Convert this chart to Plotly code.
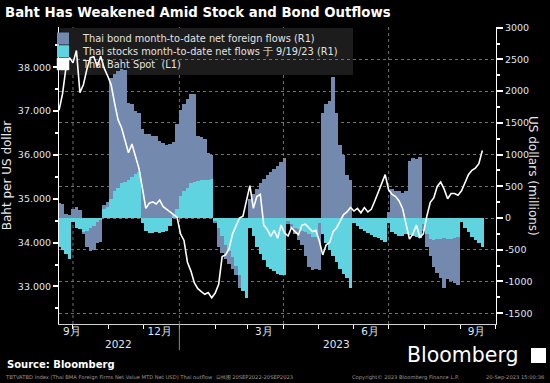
import pandas as pd
import plotly.graph_objects as go

# ---------------- data ----------------
dates = pd.date_range("2022-09-19", periods=123, freq="3D")

baht_spot = [
    37.02, 37.40, 38.00, 38.22, 38.10, 38.38, 37.42, 37.60, 37.95, 38.22,
    38.24, 38.02, 38.25, 37.98, 37.80, 37.60, 37.18, 36.80, 36.62, 36.35,
    36.05, 36.25, 35.95, 35.70, 35.25, 34.78, 34.90, 34.93, 34.88, 34.97,
    34.82, 34.76, 34.72, 34.64, 34.58, 34.20, 34.05, 33.55, 33.35, 33.08,
    32.95, 32.88, 32.82, 32.86, 32.74, 32.85, 33.05, 33.68, 33.72, 33.86,
    34.20, 34.38, 34.56, 34.60, 34.95, 35.30, 34.78, 35.05, 35.10, 34.40,
    34.30, 34.14, 34.28, 34.10, 34.40, 34.22, 34.15, 34.34, 34.25, 34.18,
    34.40, 34.42, 34.34, 34.25, 34.28, 34.04, 33.72, 33.95, 34.00, 34.25,
    34.34, 34.48, 34.64, 34.70, 34.80, 34.72, 34.78, 34.68, 34.80, 34.70,
    34.76, 34.95, 35.16, 35.35, 35.55, 35.20, 35.10, 35.05, 34.95, 34.78,
    34.45, 34.08, 34.20, 34.40, 34.12, 34.20, 34.60, 34.92, 35.02, 35.28,
    35.38, 35.22, 35.00, 35.12, 35.12, 35.08, 35.18, 35.38, 35.55, 35.65,
    35.70, 35.80, 36.10,
]

bond_flows = [
    240, 220, 60, 40, 150, 170, 120, -250, -450, -520,
    -500, -400, -380, 200, 250, 2200, 2270, 2320, 2350, 2330,
    1820, 1800, 1680, 1650, 1400, 1330, 1320, 1300, 1300, 1220,
    1180, 1150, 1160, 1200, 1480, 1700, 1790, 1880, 1950, 1960,
    1300, 1270, 1250, 1020, 1000, -80, -450, -550, -650, -720,
    -800, -900, -1100, -1000, -900, 300, 380, 450, 550, 620,
    680, 720, 780, 820, 880, 950, -100, -160, -250, -350,
    -420, -600, -770, -820, -800, -820, 1650, 1800, 1840, 2215,
    1650, 1150, 1000, 680, 600, -40, -60, -90, -120, -150,
    -170, -200, -230, -250, -280, 100, 450, 420, 430, 400,
    420, 900, 950, 930, 960, -200, -450, -600, -770, -870,
    -950, -1100, -960, -1000, -1030, -1050, -30, -80, -120, -150,
    -200, -250, -300,
]

stock_flows = [
    -450, -500, -560, -650, -60, -150, -180, -220, -200, -160,
    -120, -60, -30, 150, 180, 300, 420, 480, 550, 560,
    600, 650, 700, 720, -80, -200, -230, -240, -220, -230,
    -220, -200, -120, 50, 150, 350, 420, 480, 550, 560,
    580, 600, 600, 600, 620, -50, -150, -280, -420, -520,
    -620, -750, -900, -1150, -1260, -150, -280, -450, -560, -660,
    -770, -800, -840, -880, -890, -900, -50, -100, -150, -180,
    -200, -220, -250, -300, -300, -80, -250, -400, -500, -600,
    -700, -800, -880, -950, -1100, -80, -120, -170, -200, -230,
    -260, -300, -320, -350, -370, -80, -220, -250, -280, -290,
    -250, -260, -280, -300, -320, -100, -250, -330, -340, -330,
    -330, -320, -330, -330, -320, -300, -60, -150, -220, -300,
    -350, -400, -450,
]

series_names = [
    "Thai bond month-to-date net foreign flows (R1)",
    "Thai stocks month-to-date net flows 于 9/19/23 (R1)",
    "Thai Baht Spot  (L1)",
]

month_tick_dates = ["2022-09-30", "2022-12-15", "2023-03-15", "2023-06-15", "2023-09-15"]
month_tick_text = ["9月", "12月", "3月", "6月", "9月"]
year_label_dates = ["2022-11-09", "2023-05-17"]
year_label_text = ["2022", "2023"]
quarter_grid_dates = ["2022-10-01", "2023-01-01", "2023-04-01", "2023-07-01"]
year_split_date = "2023-01-01"

left_ticks = [33, 34, 35, 36, 37, 38]
right_ticks = [-1500, -1000, -500, 0, 500, 1000, 1500, 2000, 2500, 3000]

# ---------------- styling ----------------
W, H = 550, 383
L, R, T, B = 59, 54, 27, 59
PW, PH = W - L - R, H - T - B


def px_x(x):
    return (x - L) / PW


def px_y(y):
    return (H - B - y) / PH


BOND_C = "#7489ae"
STOCK_C = "#5fd3e0"
TICK_C = "#dfe5ef"
GRID_C = "#707070"
LEG_FONT = dict(family="DejaVu Sans", size=9.8, color="#e2e2e2")

fig = go.Figure()
fig.add_trace(go.Bar(x=dates, y=bond_flows, name=series_names[0],
                     marker=dict(color=BOND_C, line=dict(width=0)),
                     width=3 * 86400000, yaxis="y", legend="legend"))
fig.add_trace(go.Bar(x=dates, y=stock_flows, name=series_names[1],
                     marker=dict(color=STOCK_C, line=dict(width=0)),
                     width=3 * 86400000, yaxis="y", legend="legend2"))
fig.add_trace(go.Scatter(x=dates, y=baht_spot, mode="lines", name=series_names[2],
                         line=dict(color="white", width=1.6), yaxis="y2",
                         showlegend=False))
# legend-only square swatch for the spot line
fig.add_trace(go.Bar(x=[None], y=[None], name=series_names[2],
                     marker=dict(color="white"), yaxis="y", legend="legend3"))

shapes = []
for d in quarter_grid_dates:
    shapes.append(dict(type="line", xref="x", yref="paper", x0=d, x1=d, y0=0, y1=1,
                       line=dict(color=GRID_C, width=1, dash="dot"), layer="below"))
shapes.append(dict(type="line", xref="x", yref="paper", x0=year_split_date, x1=year_split_date,
                   y0=px_y(350), y1=0, line=dict(color="#8a8a8a", width=1)))
# legend box background
shapes.append(dict(type="rect", xref="paper", yref="paper",
                   x0=px_x(60), x1=px_x(353), y0=px_y(75), y1=px_y(28),
                   fillcolor="#1c1c1c", line=dict(width=0), layer="below"))
# logo icon
shapes.append(dict(type="rect", xref="paper", yref="paper",
                   x0=px_x(531), x1=px_x(546), y0=px_y(363), y1=px_y(348),
                   fillcolor="white", line=dict(width=0)))

annotations = []
for d, t in zip(year_label_dates, year_label_text):
    annotations.append(dict(x=d, xref="x", y=px_y(344), yref="paper", text=t, yanchor="middle",
                            showarrow=False, font=dict(family="DejaVu Sans", size=10.5, color=TICK_C)))
annotations.append(dict(x=px_x(542), y=px_y(176), xref="paper", yref="paper", yanchor="middle",
                        text="US dollars (millions)", textangle=90, showarrow=False,
                        font=dict(family="DejaVu Sans", size=12, color="#e8e8e8")))
annotations.append(dict(x=px_x(5), y=px_y(364), xref="paper", yref="paper", xanchor="left",
                        yanchor="middle",
                        text="<b>Source: Bloomberg</b>", showarrow=False,
                        font=dict(family="DejaVu Sans", size=10, color="white")))
annotations.append(dict(x=px_x(405), y=px_y(355), xref="paper", yref="paper", xanchor="left",
                        yanchor="middle",
                        text="Bloomberg", showarrow=False,
                        font=dict(family="DejaVu Sans", size=20.5, color="white")))
annotations.append(dict(x=px_x(3), y=px_y(377), xref="paper", yref="paper", xanchor="left",
                        yanchor="middle",
                        text="TBTVATBD Index (Thai BMA Foreign Firms Net Value MTD Net USD) Thai outflow  日线图 20SEP2022-20SEP2023",
                        showarrow=False, font=dict(family="DejaVu Sans", size=5.2, color="#9a9a9a")))
annotations.append(dict(x=px_x(350), y=px_y(377), xref="paper", yref="paper", xanchor="left",
                        yanchor="middle",
                        text="Copyright© 2023 Bloomberg Finance L.P.",
                        showarrow=False, font=dict(family="DejaVu Sans", size=5.2, color="#9a9a9a")))
annotations.append(dict(x=px_x(546), y=px_y(377), xref="paper", yref="paper", xanchor="right",
                        yanchor="middle",
                        text="20-Sep-2023 15:00:36",
                        showarrow=False, font=dict(family="DejaVu Sans", size=5.2, color="#9a9a9a")))


def leg(ycenter):
    return dict(x=px_x(43), y=px_y(ycenter), xanchor="left", yanchor="middle",
                bgcolor="rgba(0,0,0,0)", font=LEG_FONT, borderwidth=0)


fig.update_layout(
    width=W, height=H,
    margin=dict(l=L, r=R, t=T, b=B, pad=0, autoexpand=False),
    paper_bgcolor="black", plot_bgcolor="black",
    barmode="overlay", bargap=0,
    title=dict(text="<b>Baht Has Weakened Amid Stock and Bond Outflows</b>",
               x=5 / W, xanchor="left", y=1 - 12 / H, yanchor="middle",
               font=dict(family="DejaVu Sans", size=13.3, color="white")),
    showlegend=True,
    legend=leg(38.5), legend2=leg(51.2), legend3=leg(64),
    xaxis=dict(type="date", range=["2022-09-18 22:00", "2023-10-01 20:00"], automargin=False,
               tickvals=month_tick_dates, ticktext=month_tick_text, ticks="",
               ticklabelstandoff=-3,
               tickfont=dict(family="DejaVu Sans", size=10.5, color=TICK_C),
               showgrid=False, zeroline=False, showline=True, linecolor="#cfcfcf", linewidth=1,
               minor=dict(ticks="outside", ticklen=4, tickcolor="white", tickwidth=1,
                          dtick="M1", tick0="2022-10-01", showgrid=False)),
    yaxis=dict(side="right", range=[-1670, 3010], tickvals=right_ticks, automargin=False,
               ticktext=[str(v) for v in right_ticks],
               tickfont=dict(family="DejaVu Sans", size=9.5, color=TICK_C),
               ticks="outside", ticklen=6, tickwidth=2, tickcolor="white",
               showgrid=True, gridcolor=GRID_C, griddash="dot", gridwidth=1,
               zeroline=False, showline=True, linecolor="white", linewidth=1,
               minor=dict(ticks="outside", ticklen=3, tickcolor="white", dtick=250, tick0=0,
                          showgrid=False)),
    yaxis2=dict(side="left", overlaying="y", range=[32.143, 38.918], tickvals=left_ticks,
                automargin=False,
                ticktext=["%.3f" % v for v in left_ticks],
                tickfont=dict(family="DejaVu Sans", size=9.5, color=TICK_C),
                ticks="outside", ticklen=5, tickwidth=2, tickcolor="white",
                showgrid=False, zeroline=False, showline=True, linecolor="white", linewidth=1,
                title=dict(text="Baht per US dollar", standoff=5,
                           font=dict(family="DejaVu Sans", size=12, color="#e8e8e8")),
                minor=dict(ticks="outside", ticklen=3, tickcolor="white", dtick=0.5, tick0=33,
                           showgrid=False)),
    shapes=shapes,
    annotations=annotations,
)

fig.write_html("out.html", config={"displayModeBar": False},
               post_script="document.body.style.margin='0';document.body.style.padding='0';")
